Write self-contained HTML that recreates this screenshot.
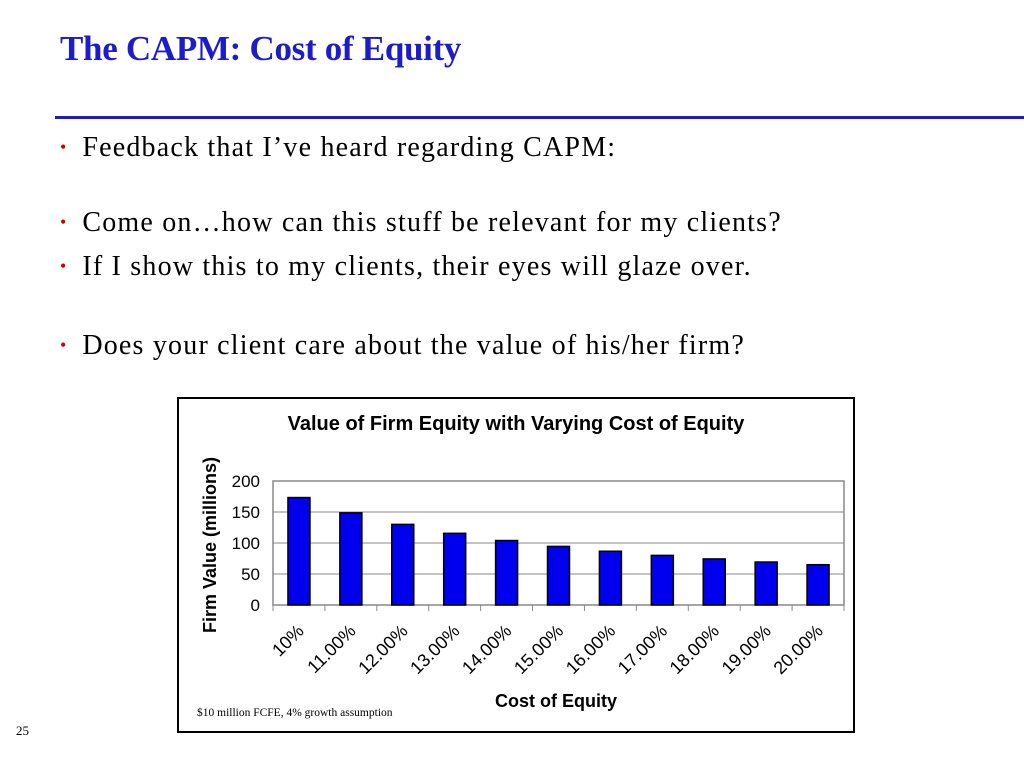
<!DOCTYPE html>
<html><head><meta charset="utf-8"><style>
body{margin:0;width:1024px;height:768px;background:#fff;position:relative;overflow:hidden;font-family:"Liberation Serif",serif}
.t{position:absolute;left:60px;top:29px;font-size:35px;font-weight:bold;color:#1c1ccc;letter-spacing:-0.3px}
.rule{position:absolute;left:55px;top:116px;width:969px;height:3px;background:#1c1ccc}
.b{position:absolute;left:60px;font-size:28px;color:#000;letter-spacing:1.2px}
.b span{color:#c00;font-size:18px;position:relative;top:-3px;margin-right:16px;letter-spacing:0}
</style></head><body>
<div class="t">The CAPM: Cost of Equity</div>
<div class="rule"></div>
<div class="b" style="top:132px"><span>•</span>Feedback that I’ve heard regarding CAPM:</div>
<div class="b" style="top:207px"><span>•</span>Come on…how can this stuff be relevant for my clients?</div>
<div class="b" style="top:251px"><span>•</span>If I show this to my clients, their eyes will glaze over.</div>
<div class="b" style="top:330px"><span>•</span>Does your client care about the value of his/her firm?</div>
<div style="position:absolute;left:16px;top:723px;font-size:13px">25</div>
<svg id="c" width="1024" height="768" style="position:absolute;left:0;top:0">
<rect x="178" y="398" width="676" height="334" fill="#fff" stroke="#000" stroke-width="2"/>
</svg>
<script>
const categories=["10%","11.00%","12.00%","13.00%","14.00%","15.00%","16.00%","17.00%","18.00%","19.00%","20.00%"];
const values=[173.3,148.6,130,115.6,104,94.5,86.7,80,74.3,69.3,65];
const yTicks=[0,50,100,150,200];
const svg=document.getElementById('c');const NS='http://www.w3.org/2000/svg';
const L=273,R=844,T=481,B=605,yMax=200;
const y=v=>B-(v/yMax)*(B-T);const bw=(R-L)/categories.length;const x=i=>L+bw*(i+0.5);
function mk(t,a,txt){const e=document.createElementNS(NS,t);for(const k in a)e.setAttribute(k,a[k]);if(txt!==undefined)e.textContent=txt;svg.appendChild(e);return e;}
const f='Liberation Sans, sans-serif';
let e;
e=mk('text',{x:516,y:430,'text-anchor':'middle','font-family':f,'font-size':20,'font-weight':'bold'},'Value of Firm Equity with Varying Cost of Equity');


e=mk('rect',{x:L,y:T,width:R-L,height:B-T,fill:'#fff',stroke:'#888','stroke-width':1.5});


yTicks.forEach(v=>{
 e=mk('line',{x1:L,x2:R,y1:y(v),y2:y(v),stroke:'#888','stroke-width':1});
 
 
 e=mk('text',{x:L-13,y:y(v)+6,'text-anchor':'end','font-family':f,'font-size':17},v);
 
 
});
for(let i=0;i<=categories.length;i++){e=mk('line',{x1:L+bw*i,x2:L+bw*i,y1:B,y2:B+6,stroke:'#888'});
 
 }
values.forEach((v,i)=>{
 e=mk('rect',{x:x(i)-11,y:y(v),width:22,height:B-y(v),fill:'#0000ee',stroke:'#000','stroke-width':1.5});
 
 
 const lx=x(i)+6,ly=B+27;
 e=mk('text',{x:lx,y:ly,'text-anchor':'end','font-family':f,'font-size':18,transform:`rotate(-45 ${lx} ${ly})`},categories[i]);
 
 
});
e=mk('text',{x:216,y:545,'text-anchor':'middle','font-family':f,'font-size':18,'font-weight':'bold',transform:'rotate(-90 216 545)'},'Firm Value (millions)');


e=mk('text',{x:556,y:707,'text-anchor':'middle','font-family':f,'font-size':18,'font-weight':'bold'},'Cost of Equity');


e=mk('text',{x:197,y:716,'font-family':'Liberation Serif, serif','font-size':11.5},'$10 million FCFE, 4% growth assumption');


</script>
</body></html>
